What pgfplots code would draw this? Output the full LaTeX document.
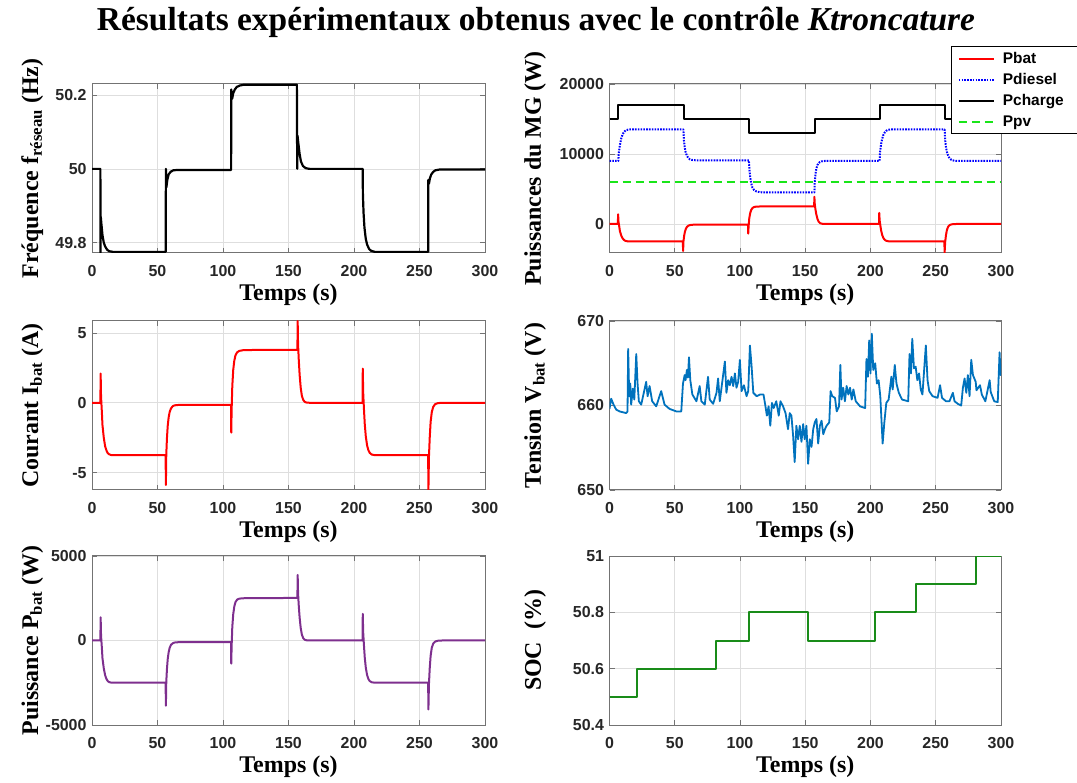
\documentclass[border=0pt]{standalone}
\usepackage{pgfplots}
\pgfplotsset{compat=1.18}
\usepackage{fontspec}
\setmainfont{Liberation Serif}
\newfontfamily\tickfam{Liberation Sans}
\newcommand\tickf{\tickfam\bfseries\fontsize{16}{18}\selectfont}
\newcommand\legf{\tickfam\bfseries\fontsize{15.5}{17}\selectfont}
\newcommand\labf{\rmfamily\bfseries\fontsize{24}{26}\selectfont}
\definecolor{tickgray}{rgb}{0.15,0.15,0.15}
\definecolor{mblue}{rgb}{0,0.447,0.741}
\definecolor{mpurple}{rgb}{0.494,0.184,0.557}
\definecolor{sgreen}{rgb}{0.1,0.55,0.1}
\definecolor{pvgreen}{rgb}{0.1,0.9,0.1}
\pgfplotsset{
  myax/.style={
    scale only axis, height=169bp, xmin=0, xmax=300, xtick={0,50,...,300},
    grid=major, major grid style={line width=0.7bp, draw=black!13},
    axis line style={draw=black!55, line width=1bp},
    tick style={draw=black!55, line width=0.8bp}, tick align=inside, major tick length=5bp,
    ticklabel style={font=\tickf, text=tickgray},
    /pgf/number format/assume math mode=true,
    xticklabel style={yshift=-9bp}, yticklabel style={xshift=-2bp},
    scaled y ticks=false,
    /pgf/number format/1000 sep={},
    xlabel={Temps (s)},
    xlabel style={font=\labf, at={(axis description cs:0.5,-0.28)}, anchor=base},
    ylabel style={font=\labf, anchor=base},
    every axis plot/.append style={line width=2bp, line join=round},
  },
  leftax/.style={myax, width=393bp, ylabel style={at={(axis description cs:-0.137,0.5)}}},
  rightax/.style={myax, width=391.5bp, ylabel style={at={(axis description cs:-0.175,0.5)}}},
}
\begin{document}
\begin{tikzpicture}
\useasboundingbox (0,0) rectangle (1077bp,783bp);
\node[anchor=base, inner sep=0pt] at (536bp,752bp)
  {\resizebox{878bp}{!}{\rmfamily\bfseries\fontsize{30}{32}\selectfont Résultats expérimentaux obtenus avec le contrôle \textit{Ktroncature}}};

% ---------- Plot 1: frequency
\begin{axis}[leftax, at={(92bp,530bp)}, anchor=south west,
  ymin=49.772, ymax=50.23, ytick={49.8,50,50.2},
  ylabel={Fréquence f\textsubscript{réseau} (Hz)}]
\addplot[black, line width=2.2bp] coordinates {
(0,50) (6.4,50) (6.5,49.773) (6.7,49.87) (7.2,49.85) (8,49.82) (9,49.80) (10,49.79) (11.5,49.781) (13,49.777) (16,49.775)
(56.3,49.775) (56.4,50.0) (56.8,49.95) (57.5,49.97) (58.5,49.985) (60,49.992) (62,49.996) (65,49.997)
(106.2,49.997) (106.3,50.215) (107,50.19) (107.8,50.205) (109,50.215) (110.5,50.222) (113,50.226) (116,50.228)
(156.4,50.228) (156.5,50.10) (156.7,50.0) (156.9,50.09) (157.5,50.07) (158.5,50.04) (159.5,50.02) (161,50.008) (163,50.002) (166,50.0)
(206.6,50.0) (206.8,49.93) (207.3,49.88) (208,49.84) (209,49.81) (210,49.795) (211.5,49.783) (213,49.778) (216,49.775)
(256.6,49.775) (256.7,49.97) (257.2,49.96) (258,49.975) (259,49.985) (260.5,49.992) (262,49.996) (265,49.998) (300,49.998)
};
\end{axis}

% ---------- Plot 2: powers
\begin{axis}[rightax, at={(609.5bp,530bp)}, anchor=south west,
  ymin=-4150, ymax=20000, ytick={0,10000,20000},
  ylabel={Puissances du MG (W)},
  legend style={at={(0.872,1.2266)}, anchor=north west, font=\legf, draw=black, line width=1bp,
    fill=white, inner xsep=6.5bp, inner ysep=4.5bp, row sep=5.5bp, column sep=4bp, cells={anchor=west},
    nodes={inner xsep=3.5bp, inner ysep=1.5bp}},
  legend image code/.code={\draw[#1] (0bp,0bp) -- (35.5bp,0bp);}]
\addplot[red] coordinates {
(0,0)(6.4,0)(6.6,1370)(6.9,300)(7.5,-400)(8,-1050)(9,-1650)(10,-2050)(11,-2270)(12,-2400)(13,-2460)(15,-2500)
(56.2,-2500)(56.4,-3860)(56.7,-2450)(57.2,-1700)(57.8,-1100)(58.5,-700)(59.3,-430)(60.3,-260)(61.5,-170)(63,-120)(66,-100)
(106.1,-100)(106.3,-1370)(106.6,-300)(107.1,800)(107.8,1550)(108.6,2000)(109.5,2270)(110.8,2420)(112.5,2480)(116,2500)
(156.8,2520)(157,3880)(157.3,2800)(157.8,2100)(158.5,1350)(159.3,750)(160.2,350)(161.3,130)(162.5,40)(164,10)(167,0)
(206.5,0)(206.7,1570)(207,500)(207.6,-300)(208.2,-1000)(209,-1600)(210,-2050)(211,-2280)(212,-2400)(213.5,-2470)(216,-2500)
(256.6,-2500)(256.8,-4080)(257.2,-2600)(257.8,-1650)(258.5,-900)(259.4,-420)(260.5,-180)(262,-60)(264,-15)(267,0)(300,0)
};
\addlegendentry{\makebox[90bp][l]{Pbat}}
\addplot[blue, dash pattern=on 1.6bp off 1.2bp] coordinates {
(0,9000)(6.8,9000)(7,10000)(8,11300)(9,12200)(10,12800)(11,13100)(12,13300)(13,13420)(15,13500)
(56.6,13500)(57,12000)(57.6,11000)(58.3,10300)(59.2,9800)(60.3,9450)(61.5,9250)(63,9150)(66,9100)
(106.8,9100)(107.2,7800)(107.8,6700)(108.6,5800)(109.5,5200)(110.8,4850)(112.5,4650)(115,4550)(118,4500)
(157,4500)(157.3,6000)(157.8,7100)(158.5,7900)(159.3,8400)(160.2,8700)(161.3,8850)(162.5,8950)(165,9000)
(207,9000)(207.3,10200)(208,11300)(209,12200)(210,12800)(211,13100)(212,13300)(213,13420)(215,13500)
(256.8,13500)(257.2,12000)(257.8,11000)(258.5,10300)(259.4,9800)(260.5,9400)(262,9150)(264,9050)(267,9000)(300,9000)
};
\addlegendentry{\makebox[90bp][l]{Pdiesel}}
\addplot[black] coordinates {
(0,15000)(6.8,15000)(6.8,17000)(56.8,17000)(56.8,15000)(107,15000)(107,13000)(157.2,13000)(157.2,15000)
(207.2,15000)(207.2,17000)(257.2,17000)(257.2,15000)(300,15000)
};
\addlegendentry{\makebox[90bp][l]{Pcharge}}
\addplot[pvgreen, dash pattern=on 8bp off 5bp] coordinates {(0,6000)(300,6000)};
\addlegendentry{\makebox[90bp][l]{Ppv}}
\end{axis}

% ---------- Plot 3: current
\begin{axis}[leftax, at={(92bp,293bp)}, anchor=south west,
  ymin=-6.24, ymax=5.86, ytick={-5,0,5},
  ylabel={Courant I\textsubscript{bat} (A)}]
\addplot[red] coordinates {
(0,0)(6.4,0)(6.6,2.1)(6.9,0.45)(7.5,-0.6)(8,-1.6)(9,-2.5)(10,-3.1)(11,-3.4)(12,-3.6)(13,-3.68)(15,-3.75)
(56.2,-3.75)(56.4,-5.88)(56.7,-3.7)(57.2,-2.55)(57.8,-1.65)(58.5,-1.05)(59.3,-0.65)(60.3,-0.4)(61.5,-0.25)(63,-0.18)(66,-0.15)
(106.1,-0.15)(106.3,-2.14)(106.6,-0.45)(107.1,1.2)(107.8,2.35)(108.6,3.0)(109.5,3.4)(110.8,3.62)(112.5,3.72)(116,3.78)
(156.8,3.8)(157,5.86)(157.3,4.2)(157.8,3.15)(158.5,2.0)(159.3,1.1)(160.2,0.5)(161.3,0.2)(162.5,0.06)(164,0.015)(167,0)
(206.5,0)(206.7,2.45)(207,0.75)(207.6,-0.45)(208.2,-1.5)(209,-2.4)(210,-3.05)(211,-3.4)(212,-3.58)(213.5,-3.7)(216,-3.75)
(256.6,-3.75)(256.8,-6.3)(257.2,-3.9)(257.8,-2.5)(258.5,-1.35)(259.4,-0.65)(260.5,-0.28)(262,-0.09)(264,-0.02)(267,0)(300,0)
};
\end{axis}

% ---------- Plot 4: voltage
\begin{axis}[rightax, at={(609.5bp,293bp)}, anchor=south west,
  ymin=650, ymax=670, ytick={650,660,670},
  ylabel={Tension V\textsubscript{bat} (V)}]
\addplot[mblue, line width=1.8bp] coordinates {
(0,659.6)(1.3,660.8)(3.1,660.1)(5.2,659.5)(7.7,659.3)(10.2,659.2)(12.8,659.1)(13.8,659.3)(14.3,666.7)(15.1,661.1)
(15.9,662.6)(16.6,660.1)(17.9,662.0)(19.0,660.7)(20.5,666.1)(21.5,662.6)(22.5,660.5)(24.3,660.1)(28.1,662.8)(29.2,661.1)
(30.7,662.3)(32.7,660.5)(35.8,659.9)(39.6,661.7)(42.2,660.1)(46.0,659.6)(51.2,659.3)(55.0,659.3)(56.3,662.6)(57.6,663.6)
(58.3,663.0)(59.3,664.2)(60.1,663.3)(60.9,665.7)(61.9,663.0)(63.5,661.3)(66.6,660.5)(69.1,662.3)(70.4,660.5)(73.0,660.1)
(75.5,663.4)(76.8,660.7)(79.4,660.2)(82.0,661.5)(83.2,663.2)(84.5,660.5)(88.4,665.2)(89.6,661.5)(90.9,663.0)(92.2,662.4)
(93.5,663.4)(94.8,662.3)(96.1,663.8)(97.3,662.1)(98.6,662.8)(99.9,665.4)(101.2,661.7)(103.0,662.4)(105.0,661.1)(106.3,661.7)
(107.6,667.1)(108.9,664.6)(110.2,661.5)(112.8,661.1)(115.4,661.3)(118.0,661.3)(119.3,660.1)(120.6,658.8)(121.9,659.9)(123.2,657.6)
(124.5,660.3)(125.8,659.7)(127.8,660.5)(129.7,658.8)(131.0,660.5)(133.0,659.9)(134.9,659.1)(136.8,657.2)(138.1,659.1)(139.4,658.8)
(140.7,656.4)(141.9,653.3)(143.2,657.6)(144.5,656.0)(145.8,657.6)(147.1,655.7)(148.4,657.8)(149.6,656.0)(150.9,657.6)(152.2,653.1)
(153.5,656.0)(154.8,655.1)(156.1,657.2)(157.3,658.0)(158.6,658.4)(159.9,655.5)(161.2,657.6)(162.5,658.2)(163.8,656.6)(165.1,657.2)
(166.3,657.6)(168.4,658.0)(169.4,661.7)(170.7,661.1)(172.8,660.9)(174.1,659.3)(175.9,659.9)(176.9,664.8)(177.8,660.7)(179.1,662.1)
(180.4,660.5)(181.7,662.3)(183.0,661.3)(184.3,662.1)(185.6,660.7)(186.9,661.9)(188.7,660.5)(192.0,659.9)(195.9,659.7)(196.9,665.5)
(198.0,663.4)(199.0,667.7)(200.0,663.8)(201.0,668.5)(202.1,664.2)(203.6,665.0)(204.9,662.6)(206.2,663.0)(207.5,661.1)(209.3,655.5)
(210.6,658.0)(212.1,660.3)(213.9,660.7)(216.0,663.4)(217.0,661.9)(218.6,664.8)(219.9,662.6)(221.7,661.5)(224.2,660.7)(228.9,660.5)
(229.9,666.1)(231.0,663.8)(232.0,667.9)(233.3,664.4)(234.6,664.6)(235.9,663.0)(237.2,663.8)(238.5,661.9)(239.8,661.3)(242.4,667.1)
(243.7,663.0)(245.0,661.7)(247.6,661.1)(251.4,660.9)(253.3,662.4)(254.8,660.9)(257.9,660.5)(260.5,660.5)(263.1,661.5)(264.4,660.5)
(266.9,660.2)(269.5,660.0)(270.8,662.1)(272.1,663.2)(273.4,661.5)(274.6,663.6)(275.9,661.1)(277.2,665.4)(278.5,663.6)(280.6,662.8)
(281.2,661.8)(283.9,662.4)(285.3,661.3)(288.0,660.5)(291.3,663.0)(292.1,661.6)(294.8,660.5)(297.5,660.4)(298.9,666.3)(299.7,663.6)(300,664)
};
\end{axis}

% ---------- Plot 5: battery power
\begin{axis}[leftax, at={(92bp,58bp)}, anchor=south west,
  ymin=-5000, ymax=5000, ytick={-5000,0,5000},
  ylabel={Puissance P\textsubscript{bat} (W)}]
\addplot[mpurple] coordinates {
(0,0)(6.4,0)(6.6,1370)(6.9,300)(7.5,-400)(8,-1050)(9,-1650)(10,-2050)(11,-2270)(12,-2400)(13,-2460)(15,-2500)
(56.2,-2500)(56.4,-3860)(56.7,-2450)(57.2,-1700)(57.8,-1100)(58.5,-700)(59.3,-430)(60.3,-260)(61.5,-170)(63,-120)(66,-100)
(106.1,-100)(106.3,-1370)(106.6,-300)(107.1,800)(107.8,1550)(108.6,2000)(109.5,2270)(110.8,2420)(112.5,2480)(116,2500)
(156.8,2520)(157,3880)(157.3,2800)(157.8,2100)(158.5,1350)(159.3,750)(160.2,350)(161.3,130)(162.5,40)(164,10)(167,0)
(206.5,0)(206.7,1570)(207,500)(207.6,-300)(208.2,-1000)(209,-1600)(210,-2050)(211,-2280)(212,-2400)(213.5,-2470)(216,-2500)
(256.6,-2500)(256.8,-4080)(257.2,-2600)(257.8,-1650)(258.5,-900)(259.4,-420)(260.5,-180)(262,-60)(264,-15)(267,0)(300,0)
};
\end{axis}

% ---------- Plot 6: SOC
\begin{axis}[rightax, at={(609.5bp,58bp)}, anchor=south west,
  ymin=50.4, ymax=51, ytick={50.4,50.6,50.8,51},
  ylabel={SOC~~(\%)}]
\addplot[sgreen] coordinates {
(0,50.5)(21.2,50.5)(21.2,50.6)(81.9,50.6)(81.9,50.7)(107,50.7)(107,50.8)(151.9,50.8)(151.9,50.7)
(203.6,50.7)(203.6,50.8)(235,50.8)(235,50.9)(280.7,50.9)(280.7,51)(300,51)
};
\end{axis}
\end{tikzpicture}
\end{document}
